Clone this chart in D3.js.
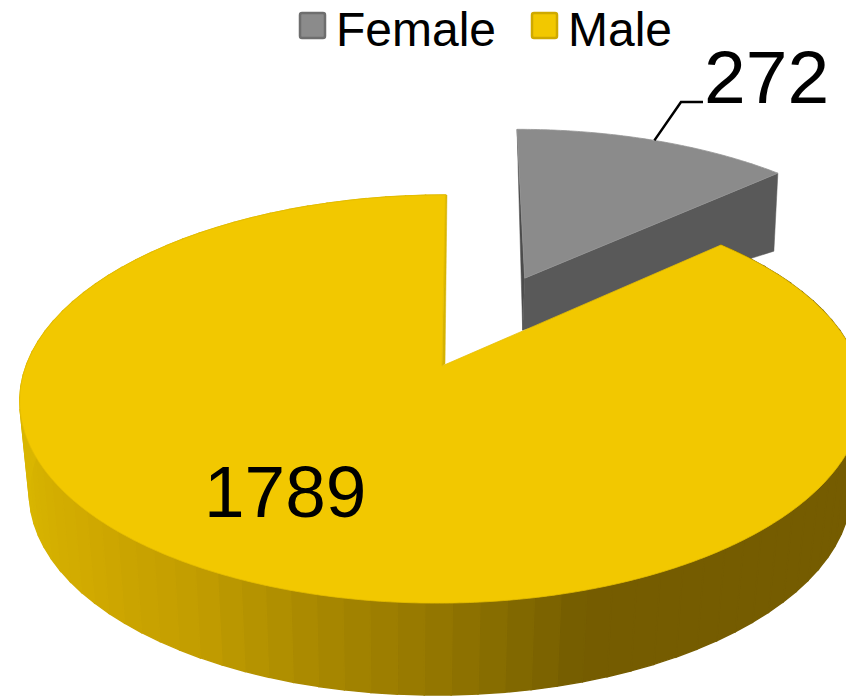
<!DOCTYPE html>
<html><head><meta charset="utf-8">
<script src="https://cdn.jsdelivr.net/npm/d3@7"></script>
<style>html,body{margin:0;padding:0;background:#fff;overflow:hidden}svg{display:block}text{font-family:"Liberation Sans",Arial,sans-serif;fill:#000}</style>
</head><body>
<script>
const categories = ["Female", "Male"];
const values = [272, 1789];
const topColors = ["#8b8b8b", "#f2c800"];
const edgeColors = ["#6e6e6e", "#cfa900"];
const faceColors = ["#595959", "#d6b300"];
const wallAngles = [47, 163, 168, 180, 197, 210, 229, 252, 282, 360];
const wallColors = ["#755c00", "#755c00", "#7d6500", "#937600", "#ad8c00", "#c29d00", "#d0a900", "#d8b500", "#dbb700", "#dbb700"];

const W = 846, H = 696;
const svg = d3.select("body").append("svg").attr("width", W).attr("height", H);
const chart = svg.append("g");

// projection of the unit ground disc onto the tilted top plane
const plane = {x0: 442, y0: 366, a: 416, b: 198.7, k: 0.162, s: -4};
const project = (u, v) => {
  const w = 1 / (1 - plane.k * v);
  return [plane.x0 + (plane.a * u + plane.s * v) * w, plane.y0 + plane.b * v * w];
};
// lower edge of the extruded Male wall: same point pulled in and dropped
const wallDepth = 92, wallShrink = 0.975;
const drop = p => [plane.x0 - 1 + (p[0] - plane.x0) * wallShrink, p[1] + wallDepth];

const line = d3.line();
const explode = 0.52;
const pie = d3.pie().sort(null).startAngle(0).endAngle(2 * Math.PI);
const arcs = pie(values);
const wallColor = d3.scaleLinear().domain(wallAngles).range(wallColors);

function offsetOf(d, i) {
  if (i !== 0) return [0, 0];
  const m = (d.startAngle + d.endAngle) / 2;
  return [explode * Math.sin(m), -explode * Math.cos(m)];
}
const rim = (off, a) => project(off[0] + Math.sin(a), off[1] - Math.cos(a));
const hub = off => project(off[0], off[1]);
const samples = (a0, a1, n) => d3.range(n + 1).map(i => a0 + (a1 - a0) * i / n);
function topOutline(d, off) {
  const n = Math.ceil((d.endAngle - d.startAngle) / 0.01);
  return [hub(off)].concat(samples(d.startAngle, d.endAngle, n).map(a => rim(off, a)));
}
const solid = (g, pts, fill) => g.append("path").attr("d", line(pts) + "Z")
  .attr("fill", fill).attr("stroke", fill).attr("stroke-width", 0.5);

// Female cut faces, drawn first since they sit behind Male
const femaleHubDepth = 52, femaleRimDepth = 78, femaleRimPull = 4;
// Male cut face is only a thin sliver along the notch
const sliverHub = [3, -2], sliverRim = [1.5, 0];

arcs.forEach((d, i) => {
  const off = offsetOf(d, i);
  const g = chart.append("g").attr("class", "slice " + categories[i]);
  if (i === 0) {
    const h = hub(off), r0 = rim(off, d.startAngle), r1 = rim(off, d.endAngle);
    const hb = [h[0] - 2, h[1] + femaleHubDepth];
    solid(g, [r0, h, hb], "#4c4c4c");
    solid(g, [h, r1, [r1[0] - femaleRimPull, r1[1] + femaleRimDepth], hb], faceColors[0]);
  } else {
    const h = hub(off), r = rim(off, d.endAngle);
    solid(g, [h, r, [r[0] + sliverRim[0], r[1] + sliverRim[1]], [h[0] + sliverHub[0], h[1] + sliverHub[1]]], faceColors[1]);
    const n = Math.ceil((d.endAngle - d.startAngle) * 180 / Math.PI / 3.2);
    const angs = samples(d.startAngle, d.endAngle, n);
    g.selectAll("path.wall").data(d3.pairs(angs)).join("path").attr("class", "wall")
      .attr("d", ([a, b]) => {
        const p = rim(off, a), q = rim(off, b);
        return line([p, q, drop(q), drop(p)]) + "Z";
      })
      .attr("fill", ([a, b]) => wallColor((a + b) * 90 / Math.PI))
      .attr("stroke", ([a, b]) => wallColor((a + b) * 90 / Math.PI))
      .attr("stroke-width", 1.4);
  }
  g.append("path")
    .attr("d", line(topOutline(d, off)) + "Z")
    .attr("fill", topColors[i]).attr("stroke", i ? "#e6be00" : "#949494").attr("stroke-width", 0.8);
});

// legend
const legendSwatchX = [300, 532], legendTextX = [336, 568];
const legend = svg.append("g").selectAll("g").data(categories).join("g");
legend.append("rect").attr("x", (d, i) => legendSwatchX[i]).attr("y", 13)
  .attr("width", 25).attr("height", 25).attr("rx", 2)
  .attr("fill", (d, i) => topColors[i]).attr("stroke", (d, i) => edgeColors[i]).attr("stroke-width", 2.5);
legend.append("text").attr("x", (d, i) => legendTextX[i]).attr("y", 46)
  .attr("font-size", 48).text(d => d);

// data labels
const labelX = [704, 204], labelY = [103, 517], labelSize = [75, 73];
svg.append("g").selectAll("text").data(values).join("text")
  .attr("x", (d, i) => labelX[i]).attr("y", (d, i) => labelY[i])
  .attr("font-size", (d, i) => labelSize[i]).text(d => d);

// leader line from the Female rim to its label
const fOff = offsetOf(arcs[0], 0);
const anchor = rim(fOff, (arcs[0].startAngle + arcs[0].endAngle) / 2);
svg.append("path").attr("d", line([anchor, [681, 102], [703, 102]]))
  .attr("fill", "none").attr("stroke", "#000").attr("stroke-width", 2.5);
</script>
</body></html>
